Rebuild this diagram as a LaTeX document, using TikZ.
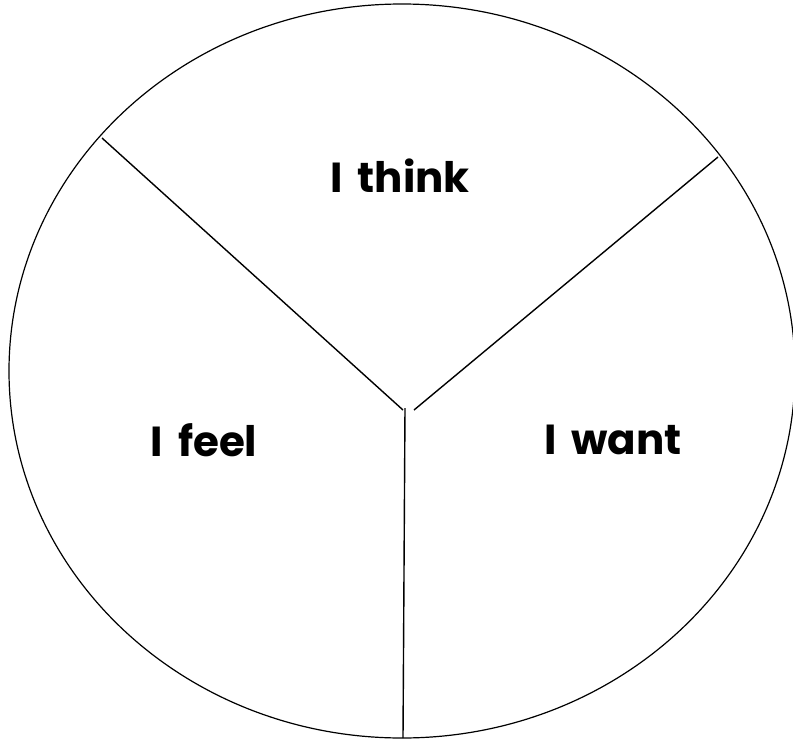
\documentclass[tikz,border=0pt]{standalone}
\usepackage{fontspec}
\setmainfont{Poppins}[WordSpace=1.7]
\usepackage{tikz}
\usetikzlibrary{positioning}

\begin{document}
\begin{tikzpicture}[x=1pt, y=-1pt,
    wheel/.style={draw=black, line width=1.2pt},
    spoke/.style={draw=black, line width=1.4pt},
    segtext/.style={font=\fontsize{42}{50}\selectfont\bfseries, inner sep=0pt}
  ]
  \useasboundingbox (0,0) rectangle (793,739);
  % outer circle
  \draw[wheel] (402,371) ellipse [x radius=393, y radius=367];
  % spoke ends
  \coordinate (topleft) at (102,138);
  \coordinate (topright) at (718,157);
  \coordinate (bottom) at (403,738);
  \coordinate (hubleft) at (403,410);
  \coordinate (hubright) at (414,410);
  \coordinate (hubdown) at (405,408);
  \draw[spoke] (topleft) -- (hubleft);
  \draw[spoke] (topright) -- (hubright);
  \draw[spoke] (hubdown) -- (bottom);
  % texts
  \node[segtext] (think) at (400,176) {I think};
  \node[segtext] (feel) at (204,440) {I feel};
  \node[segtext] (want) at (613,440) {I want};
\end{tikzpicture}
\end{document}
